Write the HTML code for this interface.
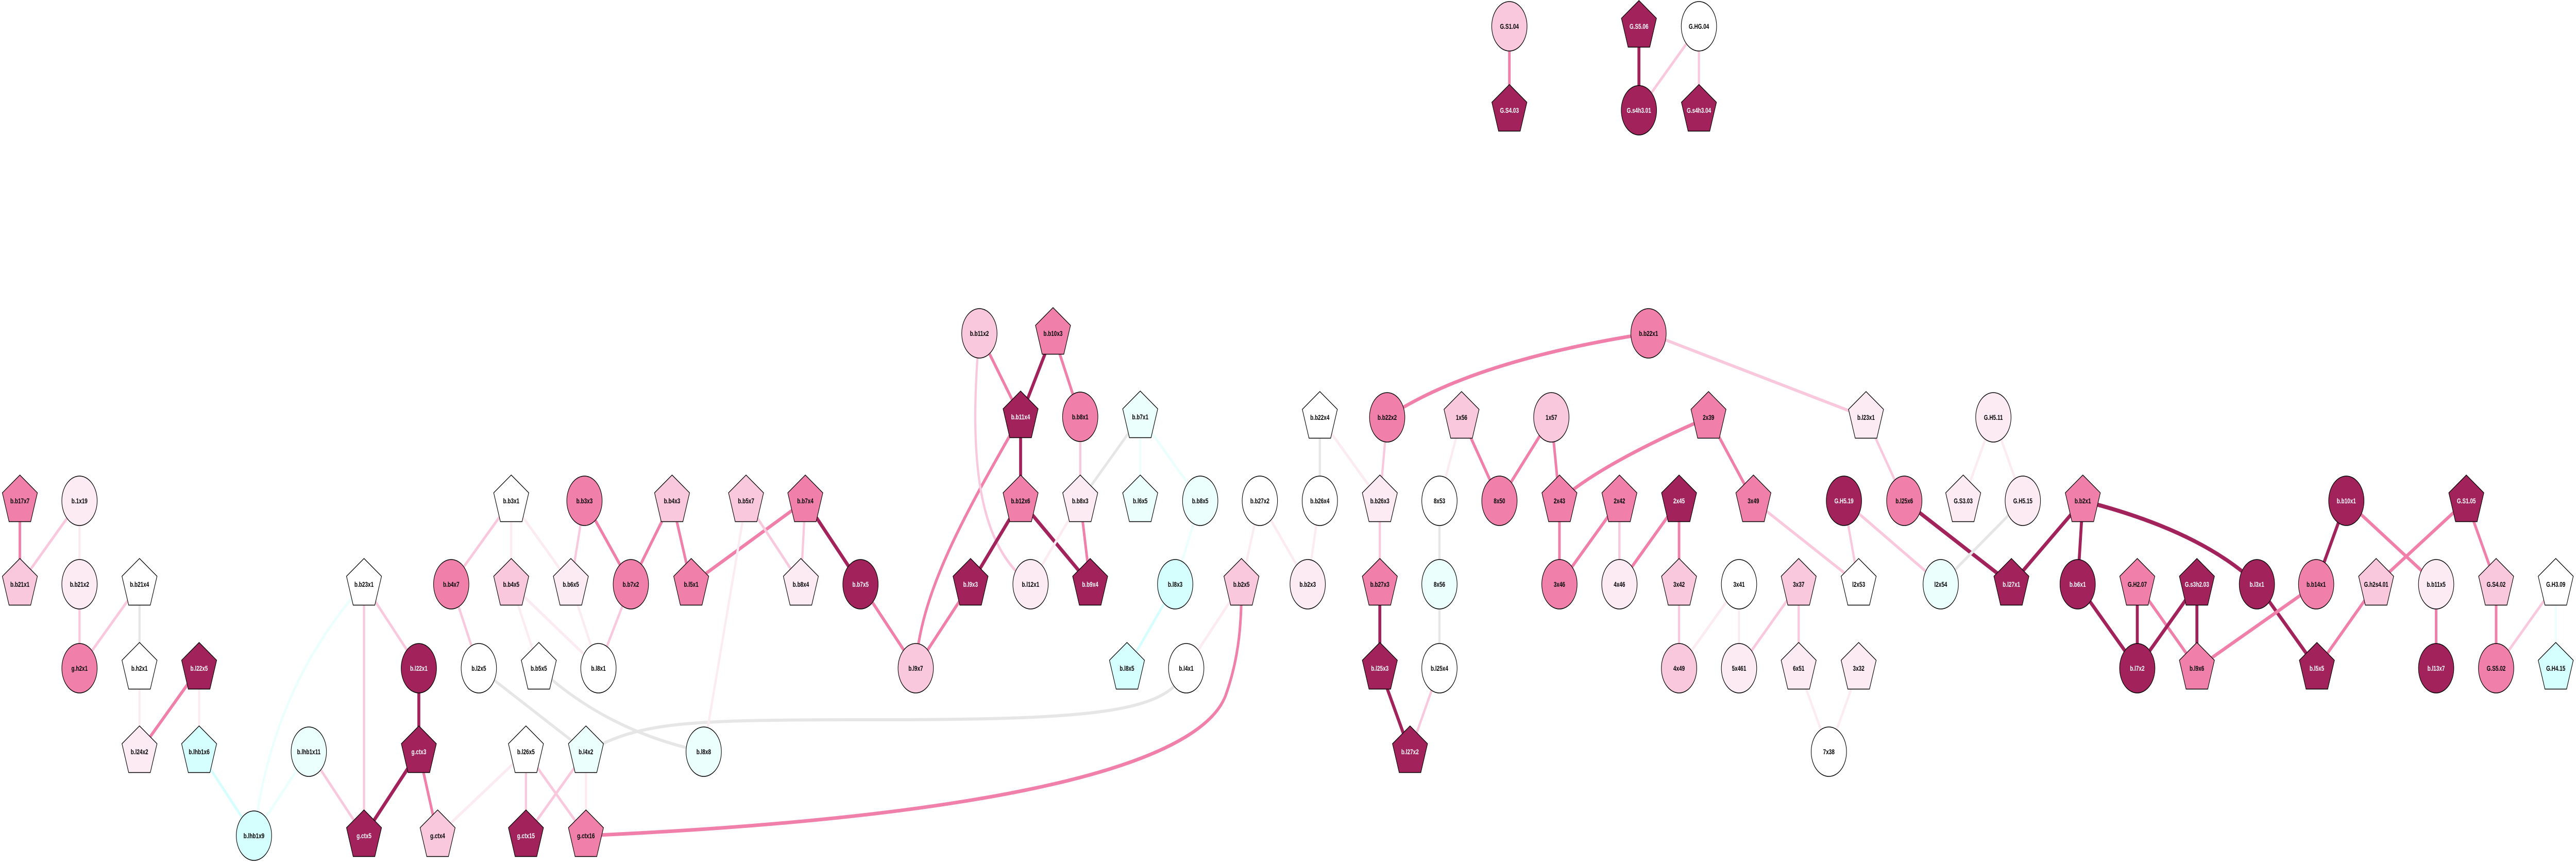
<!DOCTYPE html>
<html><head><meta charset="utf-8"><style>
html,body{margin:0;padding:0;background:#fff;width:100%;height:100%;overflow:hidden}
svg{display:block;width:100vw;height:100vh}
.n polygon,.n circle,.n use{stroke:#000;stroke-width:1.5}
.d use,.d circle{fill:#a2225c}.p use,.p circle{fill:#f080aa}.l use,.l circle{fill:#f9c8dc}
.v use,.v circle{fill:#fcebf2}.w use,.w circle{fill:#fff}.c use,.c circle{fill:#d4fffe}.e use,.e circle{fill:#ebfffd}
text{font-family:"Liberation Sans",sans-serif;font-weight:bold;font-size:14px;text-anchor:middle;fill:#000;stroke:none}
.d text{fill:#fff}
.E line,.E path{fill:none;stroke-linecap:butt}
.kd{stroke:#a2225c;stroke-width:8}.kp{stroke:#f080aa;stroke-width:7}.kl{stroke:#f9c8dc;stroke-width:6}
.kv{stroke:#fcebf2;stroke-width:6}.kg{stroke:#e6e6e6;stroke-width:6}.kc{stroke:#d4fffe;stroke-width:6}.ke{stroke:#ebfffd;stroke-width:6}
</style></head><body>
<svg viewBox="0 0 6999 1677" preserveAspectRatio="none" xmlns="http://www.w3.org/2000/svg">
<defs><polygon id="pg" points="0,-50 47.6,-15.5 29.4,40.5 -29.4,40.5 -47.6,-15.5"/></defs>
<g class="E">
<line class="kp" x1="54" y1="972" x2="54" y2="1134"/>
<line class="kl" x1="216" y1="972" x2="54" y2="1134"/>
<line class="kv" x1="216" y1="972" x2="216" y2="1134"/>
<line class="kl" x1="216" y1="1134" x2="216" y2="1297"/>
<line class="kl" x1="379" y1="1134" x2="216" y2="1297"/>
<line class="kg" x1="379" y1="1134" x2="379" y2="1297"/>
<line class="kv" x1="379" y1="1297" x2="379" y2="1459"/>
<line class="kp" x1="541" y1="1297" x2="379" y2="1459"/>
<line class="kv" x1="541" y1="1297" x2="541" y2="1459"/>
<line class="kc" x1="541" y1="1459" x2="690" y2="1622"/>
<path class="ke" d="M989,1134 Q740,1330 690,1622"/>
<line class="ke" x1="839" y1="1459" x2="690" y2="1622"/>
<line class="kl" x1="839" y1="1459" x2="989" y2="1622"/>
<line class="kl" x1="989" y1="1134" x2="989" y2="1622"/>
<line class="kl" x1="989" y1="1134" x2="1138" y2="1297"/>
<line class="kd" x1="1138" y1="1297" x2="1138" y2="1459"/>
<line class="kd" x1="1138" y1="1459" x2="989" y2="1622"/>
<line class="kp" x1="1138" y1="1459" x2="1189" y2="1622"/>
<line class="kv" x1="1429" y1="1459" x2="1189" y2="1622"/>
<line class="kl" x1="1429" y1="1459" x2="1429" y2="1622"/>
<line class="kl" x1="1429" y1="1459" x2="1592" y2="1622"/>
<line class="kl" x1="1592" y1="1459" x2="1429" y2="1622"/>
<line class="kv" x1="1592" y1="1459" x2="1592" y2="1622"/>
<path class="kp" d="M1592,1622 C2600,1590 3250,1500 3330,1350 C3370,1270 3373,1200 3373,1134"/>
<line class="kl" x1="1389" y1="972" x2="1226" y2="1134"/>
<line class="kv" x1="1389" y1="972" x2="1389" y2="1134"/>
<line class="kv" x1="1389" y1="972" x2="1551" y2="1134"/>
<line class="kl" x1="1588" y1="972" x2="1551" y2="1134"/>
<line class="kp" x1="1588" y1="972" x2="1714" y2="1134"/>
<line class="kp" x1="1826" y1="972" x2="1714" y2="1134"/>
<line class="kp" x1="1826" y1="972" x2="1878" y2="1134"/>
<line class="kl" x1="1226" y1="1134" x2="1301" y2="1297"/>
<line class="kv" x1="1389" y1="1134" x2="1464" y2="1297"/>
<line class="kv" x1="1389" y1="1134" x2="1626" y2="1297"/>
<line class="kv" x1="1551" y1="1134" x2="1626" y2="1297"/>
<line class="kl" x1="1714" y1="1134" x2="1626" y2="1297"/>
<path class="kg" d="M1301,1297 Q1450,1380 1592,1459"/>
<path class="kg" d="M1464,1297 Q1650,1420 1912,1459"/>
<path class="kg" d="M1592,1459 C1750,1400 1850,1397 2400,1397 C3000,1397 3180,1380 3223,1297"/>
<line class="kp" x1="2188" y1="972" x2="1878" y2="1134"/>
<line class="kl" x1="2027" y1="972" x2="2176" y2="1134"/>
<line class="kv" x1="2027" y1="972" x2="1912" y2="1459"/>
<line class="kl" x1="2188" y1="972" x2="2176" y2="1134"/>
<line class="kd" x1="2188" y1="972" x2="2338" y2="1134"/>
<line class="kp" x1="2338" y1="1134" x2="2488" y2="1297"/>
<path class="kp" d="M2773,809 C2620,1000 2500,1150 2488,1297"/>
<line class="kp" x1="2637" y1="1134" x2="2488" y2="1297"/>
<line class="kp" x1="2661" y1="647" x2="2773" y2="809"/>
<path class="kl" d="M2661,647 C2630,900 2660,1060 2800,1134"/>
<line class="kd" x1="2861" y1="647" x2="2773" y2="809"/>
<line class="kp" x1="2861" y1="647" x2="2935" y2="809"/>
<line class="kd" x1="2773" y1="809" x2="2773" y2="972"/>
<line class="kd" x1="2773" y1="972" x2="2637" y2="1134"/>
<line class="kd" x1="2773" y1="972" x2="2962" y2="1134"/>
<line class="kl" x1="2935" y1="809" x2="2935" y2="972"/>
<line class="kp" x1="2935" y1="972" x2="2962" y2="1134"/>
<line class="kv" x1="2935" y1="972" x2="2800" y2="1134"/>
<line class="kg" x1="3098" y1="809" x2="2935" y2="972"/>
<line class="ke" x1="3098" y1="809" x2="3098" y2="972"/>
<line class="ke" x1="3098" y1="809" x2="3261" y2="972"/>
<line class="ke" x1="3261" y1="972" x2="3193" y2="1134"/>
<line class="kc" x1="3193" y1="1134" x2="3062" y2="1297"/>
<line class="kv" x1="3423" y1="972" x2="3373" y2="1134"/>
<line class="kv" x1="3423" y1="972" x2="3553" y2="1134"/>
<line class="kv" x1="3373" y1="1134" x2="3223" y2="1297"/>
<line class="kp" x1="4101" y1="51" x2="4101" y2="214"/>
<line class="kd" x1="4453" y1="51" x2="4453" y2="214"/>
<line class="kl" x1="4616" y1="51" x2="4453" y2="214"/>
<line class="kl" x1="4616" y1="51" x2="4616" y2="214"/>
<path class="kp" d="M4479,647 Q4000,700 3769,810"/>
<line class="kl" x1="4479" y1="647" x2="5070" y2="810"/>
<line class="kg" x1="3586" y1="810" x2="3586" y2="972"/>
<line class="kv" x1="3586" y1="810" x2="3749" y2="972"/>
<line class="kl" x1="3769" y1="810" x2="3749" y2="972"/>
<line class="kv" x1="3586" y1="972" x2="3553" y2="1134"/>
<line class="kl" x1="3749" y1="972" x2="3749" y2="1134"/>
<line class="kd" x1="3749" y1="1134" x2="3749" y2="1297"/>
<line class="kd" x1="3749" y1="1297" x2="3831" y2="1459"/>
<line class="kl" x1="3911" y1="1297" x2="3831" y2="1459"/>
<line class="kg" x1="3911" y1="972" x2="3911" y2="1297"/>
<line class="kv" x1="3971" y1="810" x2="3911" y2="972"/>
<line class="kp" x1="3971" y1="810" x2="4074" y2="972"/>
<line class="kp" x1="4215" y1="810" x2="4074" y2="972"/>
<line class="kp" x1="4215" y1="810" x2="4237" y2="972"/>
<path class="kp" d="M4642,810 Q4350,900 4237,972"/>
<line class="kp" x1="4642" y1="810" x2="4764" y2="972"/>
<line class="kp" x1="4237" y1="972" x2="4237" y2="1134"/>
<line class="kp" x1="4400" y1="972" x2="4237" y2="1134"/>
<line class="kl" x1="4400" y1="972" x2="4400" y2="1134"/>
<line class="kp" x1="4562" y1="972" x2="4400" y2="1134"/>
<line class="kp" x1="4562" y1="972" x2="4562" y2="1134"/>
<line class="kl" x1="4562" y1="1134" x2="4562" y2="1297"/>
<line class="kv" x1="4725" y1="1134" x2="4562" y2="1297"/>
<line class="kv" x1="4725" y1="1134" x2="4725" y2="1297"/>
<line class="kl" x1="4887" y1="1134" x2="4725" y2="1297"/>
<line class="kl" x1="4887" y1="1134" x2="4887" y2="1297"/>
<line class="kv" x1="4887" y1="1297" x2="4969" y2="1459"/>
<line class="kv" x1="5050" y1="1297" x2="4969" y2="1459"/>
<line class="kl" x1="4764" y1="972" x2="5050" y2="1134"/>
<line class="kl" x1="5010" y1="972" x2="5050" y2="1134"/>
<line class="kl" x1="5010" y1="972" x2="5273" y2="1134"/>
<line class="kl" x1="5070" y1="810" x2="5174" y2="972"/>
<line class="kd" x1="5174" y1="972" x2="5465" y2="1134"/>
<line class="kv" x1="5416" y1="810" x2="5334" y2="972"/>
<line class="kv" x1="5416" y1="810" x2="5496" y2="972"/>
<line class="kg" x1="5496" y1="972" x2="5273" y2="1134"/>
<line class="kd" x1="5659" y1="972" x2="5465" y2="1134"/>
<line class="kd" x1="5659" y1="972" x2="5645" y2="1134"/>
<path class="kd" d="M5659,972 Q5980,1030 6132,1134"/>
<line class="kd" x1="5645" y1="1134" x2="5807" y2="1297"/>
<line class="kd" x1="5807" y1="1134" x2="5807" y2="1297"/>
<line class="kp" x1="5807" y1="1134" x2="5969" y2="1297"/>
<line class="kd" x1="5969" y1="1134" x2="5807" y2="1297"/>
<line class="kd" x1="5969" y1="1134" x2="5969" y2="1297"/>
<line class="kd" x1="6132" y1="1134" x2="6295" y2="1297"/>
<line class="kd" x1="6375" y1="972" x2="6293" y2="1134"/>
<line class="kp" x1="6375" y1="972" x2="6619" y2="1134"/>
<line class="kp" x1="6293" y1="1134" x2="5969" y2="1297"/>
<line class="kp" x1="6701" y1="972" x2="6456" y2="1134"/>
<line class="kp" x1="6701" y1="972" x2="6782" y2="1134"/>
<line class="kp" x1="6456" y1="1134" x2="6295" y2="1297"/>
<line class="kp" x1="6619" y1="1134" x2="6619" y2="1297"/>
<line class="kp" x1="6782" y1="1134" x2="6782" y2="1297"/>
<line class="kl" x1="6944" y1="1134" x2="6782" y2="1297"/>
<line class="ke" x1="6944" y1="1134" x2="6944" y2="1297"/>
</g>
<g class="n p" transform="translate(54,972)"><use href="#pg"/><text y="5">b.b17x7</text></g>
<g class="n v" transform="translate(216,972)"><circle r="48"/><text y="5">b.1x19</text></g>
<g class="n l" transform="translate(54,1134)"><use href="#pg"/><text y="5">b.b21x1</text></g>
<g class="n v" transform="translate(216,1134)"><circle r="48"/><text y="5">b.b21x2</text></g>
<g class="n w" transform="translate(379,1134)"><use href="#pg"/><text y="5">b.b21x4</text></g>
<g class="n p" transform="translate(216,1297)"><circle r="48"/><text y="5">g.h2x1</text></g>
<g class="n w" transform="translate(379,1297)"><use href="#pg"/><text y="5">b.h2x1</text></g>
<g class="n d" transform="translate(541,1297)"><use href="#pg"/><text y="5">b.l22x5</text></g>
<g class="n v" transform="translate(379,1459)"><use href="#pg"/><text y="5">b.l24x2</text></g>
<g class="n c" transform="translate(541,1459)"><use href="#pg"/><text y="5">b.lhb1x6</text></g>
<g class="n c" transform="translate(690,1622)"><circle r="48"/><text y="5">b.lhb1x9</text></g>
<g class="n e" transform="translate(839,1459)"><circle r="48"/><text y="5">b.lhb1x11</text></g>
<g class="n w" transform="translate(989,1134)"><use href="#pg"/><text y="5">b.b23x1</text></g>
<g class="n d" transform="translate(1138,1297)"><circle r="48"/><text y="5">b.l22x1</text></g>
<g class="n d" transform="translate(1138,1459)"><use href="#pg"/><text y="5">g.ctx3</text></g>
<g class="n d" transform="translate(989,1622)"><use href="#pg"/><text y="5">g.ctx5</text></g>
<g class="n l" transform="translate(1189,1622)"><use href="#pg"/><text y="5">g.ctx4</text></g>
<g class="n w" transform="translate(1389,972)"><use href="#pg"/><text y="5">b.b3x1</text></g>
<g class="n p" transform="translate(1588,972)"><circle r="48"/><text y="5">b.b3x3</text></g>
<g class="n p" transform="translate(1226,1134)"><circle r="48"/><text y="5">b.b4x7</text></g>
<g class="n l" transform="translate(1389,1134)"><use href="#pg"/><text y="5">b.b4x5</text></g>
<g class="n v" transform="translate(1551,1134)"><use href="#pg"/><text y="5">b.b6x5</text></g>
<g class="n p" transform="translate(1714,1134)"><circle r="48"/><text y="5">b.b7x2</text></g>
<g class="n w" transform="translate(1301,1297)"><circle r="48"/><text y="5">b.l2x5</text></g>
<g class="n w" transform="translate(1464,1297)"><use href="#pg"/><text y="5">b.b5x5</text></g>
<g class="n w" transform="translate(1626,1297)"><circle r="48"/><text y="5">b.l8x1</text></g>
<g class="n w" transform="translate(1429,1459)"><use href="#pg"/><text y="5">b.l26x5</text></g>
<g class="n e" transform="translate(1592,1459)"><use href="#pg"/><text y="5">b.l4x2</text></g>
<g class="n d" transform="translate(1429,1622)"><use href="#pg"/><text y="5">g.ctx15</text></g>
<g class="n p" transform="translate(1592,1622)"><use href="#pg"/><text y="5">g.ctx16</text></g>
<g class="n l" transform="translate(2661,647)"><circle r="48"/><text y="5">b.b11x2</text></g>
<g class="n p" transform="translate(2861,647)"><use href="#pg"/><text y="5">b.b10x3</text></g>
<g class="n d" transform="translate(2773,809)"><use href="#pg"/><text y="5">b.b11x4</text></g>
<g class="n p" transform="translate(2935,809)"><circle r="48"/><text y="5">b.b8x1</text></g>
<g class="n e" transform="translate(3098,809)"><use href="#pg"/><text y="5">b.b7x1</text></g>
<g class="n l" transform="translate(1826,972)"><use href="#pg"/><text y="5">b.b4x3</text></g>
<g class="n l" transform="translate(2027,972)"><use href="#pg"/><text y="5">b.b5x7</text></g>
<g class="n p" transform="translate(2188,972)"><use href="#pg"/><text y="5">b.b7x4</text></g>
<g class="n p" transform="translate(2773,972)"><use href="#pg"/><text y="5">b.b12x6</text></g>
<g class="n v" transform="translate(2935,972)"><use href="#pg"/><text y="5">b.b8x3</text></g>
<g class="n e" transform="translate(3098,972)"><use href="#pg"/><text y="5">b.l6x5</text></g>
<g class="n e" transform="translate(3261,972)"><circle r="48"/><text y="5">b.b8x5</text></g>
<g class="n w" transform="translate(3423,972)"><circle r="48"/><text y="5">b.b27x2</text></g>
<g class="n p" transform="translate(1878,1134)"><use href="#pg"/><text y="5">b.l5x1</text></g>
<g class="n v" transform="translate(2176,1134)"><use href="#pg"/><text y="5">b.b8x4</text></g>
<g class="n d" transform="translate(2338,1134)"><circle r="48"/><text y="5">b.b7x5</text></g>
<g class="n d" transform="translate(2637,1134)"><use href="#pg"/><text y="5">b.l9x3</text></g>
<g class="n v" transform="translate(2800,1134)"><circle r="48"/><text y="5">b.l12x1</text></g>
<g class="n d" transform="translate(2962,1134)"><use href="#pg"/><text y="5">b.b9x4</text></g>
<g class="n c" transform="translate(3193,1134)"><circle r="48"/><text y="5">b.l8x3</text></g>
<g class="n l" transform="translate(3373,1134)"><use href="#pg"/><text y="5">b.b2x5</text></g>
<g class="n l" transform="translate(2488,1297)"><circle r="48"/><text y="5">b.l9x7</text></g>
<g class="n c" transform="translate(3062,1297)"><use href="#pg"/><text y="5">b.l8x5</text></g>
<g class="n w" transform="translate(3223,1297)"><circle r="48"/><text y="5">b.l4x1</text></g>
<g class="n e" transform="translate(1912,1459)"><circle r="48"/><text y="5">b.l8x8</text></g>
<g class="n l" transform="translate(4101,51)"><circle r="48"/><text y="5">G.S1.04</text></g>
<g class="n d" transform="translate(4101,214)"><use href="#pg"/><text y="5">G.S4.03</text></g>
<g class="n d" transform="translate(4453,51)"><use href="#pg"/><text y="5">G.S5.06</text></g>
<g class="n d" transform="translate(4453,214)"><circle r="48"/><text y="5">G.s4h3.01</text></g>
<g class="n w" transform="translate(4616,51)"><circle r="48"/><text y="5">G.HG.04</text></g>
<g class="n d" transform="translate(4616,214)"><use href="#pg"/><text y="5">G.s4h3.04</text></g>
<g class="n p" transform="translate(4479,647)"><circle r="48"/><text y="5">b.b22x1</text></g>
<g class="n w" transform="translate(3586,810)"><use href="#pg"/><text y="5">b.b22x4</text></g>
<g class="n p" transform="translate(3769,810)"><circle r="48"/><text y="5">b.b22x2</text></g>
<g class="n l" transform="translate(3971,810)"><use href="#pg"/><text y="5">1x56</text></g>
<g class="n l" transform="translate(4215,810)"><circle r="48"/><text y="5">1x57</text></g>
<g class="n p" transform="translate(4642,810)"><use href="#pg"/><text y="5">2x39</text></g>
<g class="n v" transform="translate(5070,810)"><use href="#pg"/><text y="5">b.l23x1</text></g>
<g class="n w" transform="translate(3586,972)"><circle r="48"/><text y="5">b.b26x4</text></g>
<g class="n v" transform="translate(3749,972)"><use href="#pg"/><text y="5">b.b26x3</text></g>
<g class="n w" transform="translate(3911,972)"><circle r="48"/><text y="5">8x53</text></g>
<g class="n p" transform="translate(4074,972)"><circle r="48"/><text y="5">8x50</text></g>
<g class="n p" transform="translate(4237,972)"><use href="#pg"/><text y="5">2x43</text></g>
<g class="n p" transform="translate(4400,972)"><use href="#pg"/><text y="5">2x42</text></g>
<g class="n d" transform="translate(4562,972)"><use href="#pg"/><text y="5">2x45</text></g>
<g class="n p" transform="translate(4764,972)"><use href="#pg"/><text y="5">3x49</text></g>
<g class="n d" transform="translate(5010,972)"><circle r="48"/><text y="5">G.H5.19</text></g>
<g class="n p" transform="translate(5174,972)"><circle r="48"/><text y="5">b.l25x6</text></g>
<g class="n v" transform="translate(3553,1134)"><circle r="48"/><text y="5">b.b2x3</text></g>
<g class="n p" transform="translate(3749,1134)"><use href="#pg"/><text y="5">b.b27x3</text></g>
<g class="n e" transform="translate(3911,1134)"><circle r="48"/><text y="5">8x56</text></g>
<g class="n p" transform="translate(4237,1134)"><circle r="48"/><text y="5">3x46</text></g>
<g class="n v" transform="translate(4400,1134)"><circle r="48"/><text y="5">4x46</text></g>
<g class="n l" transform="translate(4562,1134)"><use href="#pg"/><text y="5">3x42</text></g>
<g class="n w" transform="translate(4725,1134)"><circle r="48"/><text y="5">3x41</text></g>
<g class="n l" transform="translate(4887,1134)"><use href="#pg"/><text y="5">3x37</text></g>
<g class="n w" transform="translate(5050,1134)"><use href="#pg"/><text y="5">l2x53</text></g>
<g class="n d" transform="translate(3749,1297)"><use href="#pg"/><text y="5">b.l25x3</text></g>
<g class="n w" transform="translate(3911,1297)"><circle r="48"/><text y="5">b.l25x4</text></g>
<g class="n l" transform="translate(4562,1297)"><circle r="48"/><text y="5">4x49</text></g>
<g class="n v" transform="translate(4725,1297)"><circle r="48"/><text y="5">5x461</text></g>
<g class="n v" transform="translate(4887,1297)"><use href="#pg"/><text y="5">6x51</text></g>
<g class="n v" transform="translate(5050,1297)"><use href="#pg"/><text y="5">3x32</text></g>
<g class="n d" transform="translate(3831,1459)"><use href="#pg"/><text y="5">b.l27x2</text></g>
<g class="n w" transform="translate(4969,1459)"><circle r="48"/><text y="5">7x38</text></g>
<g class="n v" transform="translate(5416,810)"><circle r="48"/><text y="5">G.H5.11</text></g>
<g class="n v" transform="translate(5334,972)"><use href="#pg"/><text y="5">G.S3.03</text></g>
<g class="n v" transform="translate(5496,972)"><circle r="48"/><text y="5">G.H5.15</text></g>
<g class="n p" transform="translate(5659,972)"><use href="#pg"/><text y="5">b.b2x1</text></g>
<g class="n d" transform="translate(6375,972)"><circle r="48"/><text y="5">b.b10x1</text></g>
<g class="n d" transform="translate(6701,972)"><use href="#pg"/><text y="5">G.S1.05</text></g>
<g class="n e" transform="translate(5273,1134)"><circle r="48"/><text y="5">l2x54</text></g>
<g class="n d" transform="translate(5465,1134)"><use href="#pg"/><text y="5">b.l27x1</text></g>
<g class="n d" transform="translate(5645,1134)"><circle r="48"/><text y="5">b.b6x1</text></g>
<g class="n p" transform="translate(5807,1134)"><use href="#pg"/><text y="5">G.H2.07</text></g>
<g class="n d" transform="translate(5969,1134)"><use href="#pg"/><text y="5">G.s3h2.03</text></g>
<g class="n d" transform="translate(6132,1134)"><circle r="48"/><text y="5">b.l3x1</text></g>
<g class="n p" transform="translate(6293,1134)"><circle r="48"/><text y="5">b.b14x1</text></g>
<g class="n l" transform="translate(6456,1134)"><use href="#pg"/><text y="5">G.h2s4.01</text></g>
<g class="n v" transform="translate(6619,1134)"><circle r="48"/><text y="5">b.b11x5</text></g>
<g class="n l" transform="translate(6782,1134)"><use href="#pg"/><text y="5">G.S4.02</text></g>
<g class="n w" transform="translate(6944,1134)"><use href="#pg"/><text y="5">G.H3.09</text></g>
<g class="n d" transform="translate(5807,1297)"><circle r="48"/><text y="5">b.l7x2</text></g>
<g class="n p" transform="translate(5969,1297)"><use href="#pg"/><text y="5">b.l9x6</text></g>
<g class="n d" transform="translate(6295,1297)"><use href="#pg"/><text y="5">b.l5x5</text></g>
<g class="n d" transform="translate(6619,1297)"><circle r="48"/><text y="5">b.l13x7</text></g>
<g class="n p" transform="translate(6782,1297)"><circle r="48"/><text y="5">G.S5.02</text></g>
<g class="n c" transform="translate(6944,1297)"><use href="#pg"/><text y="5">G.H4.15</text></g>
</svg>
</body></html>
